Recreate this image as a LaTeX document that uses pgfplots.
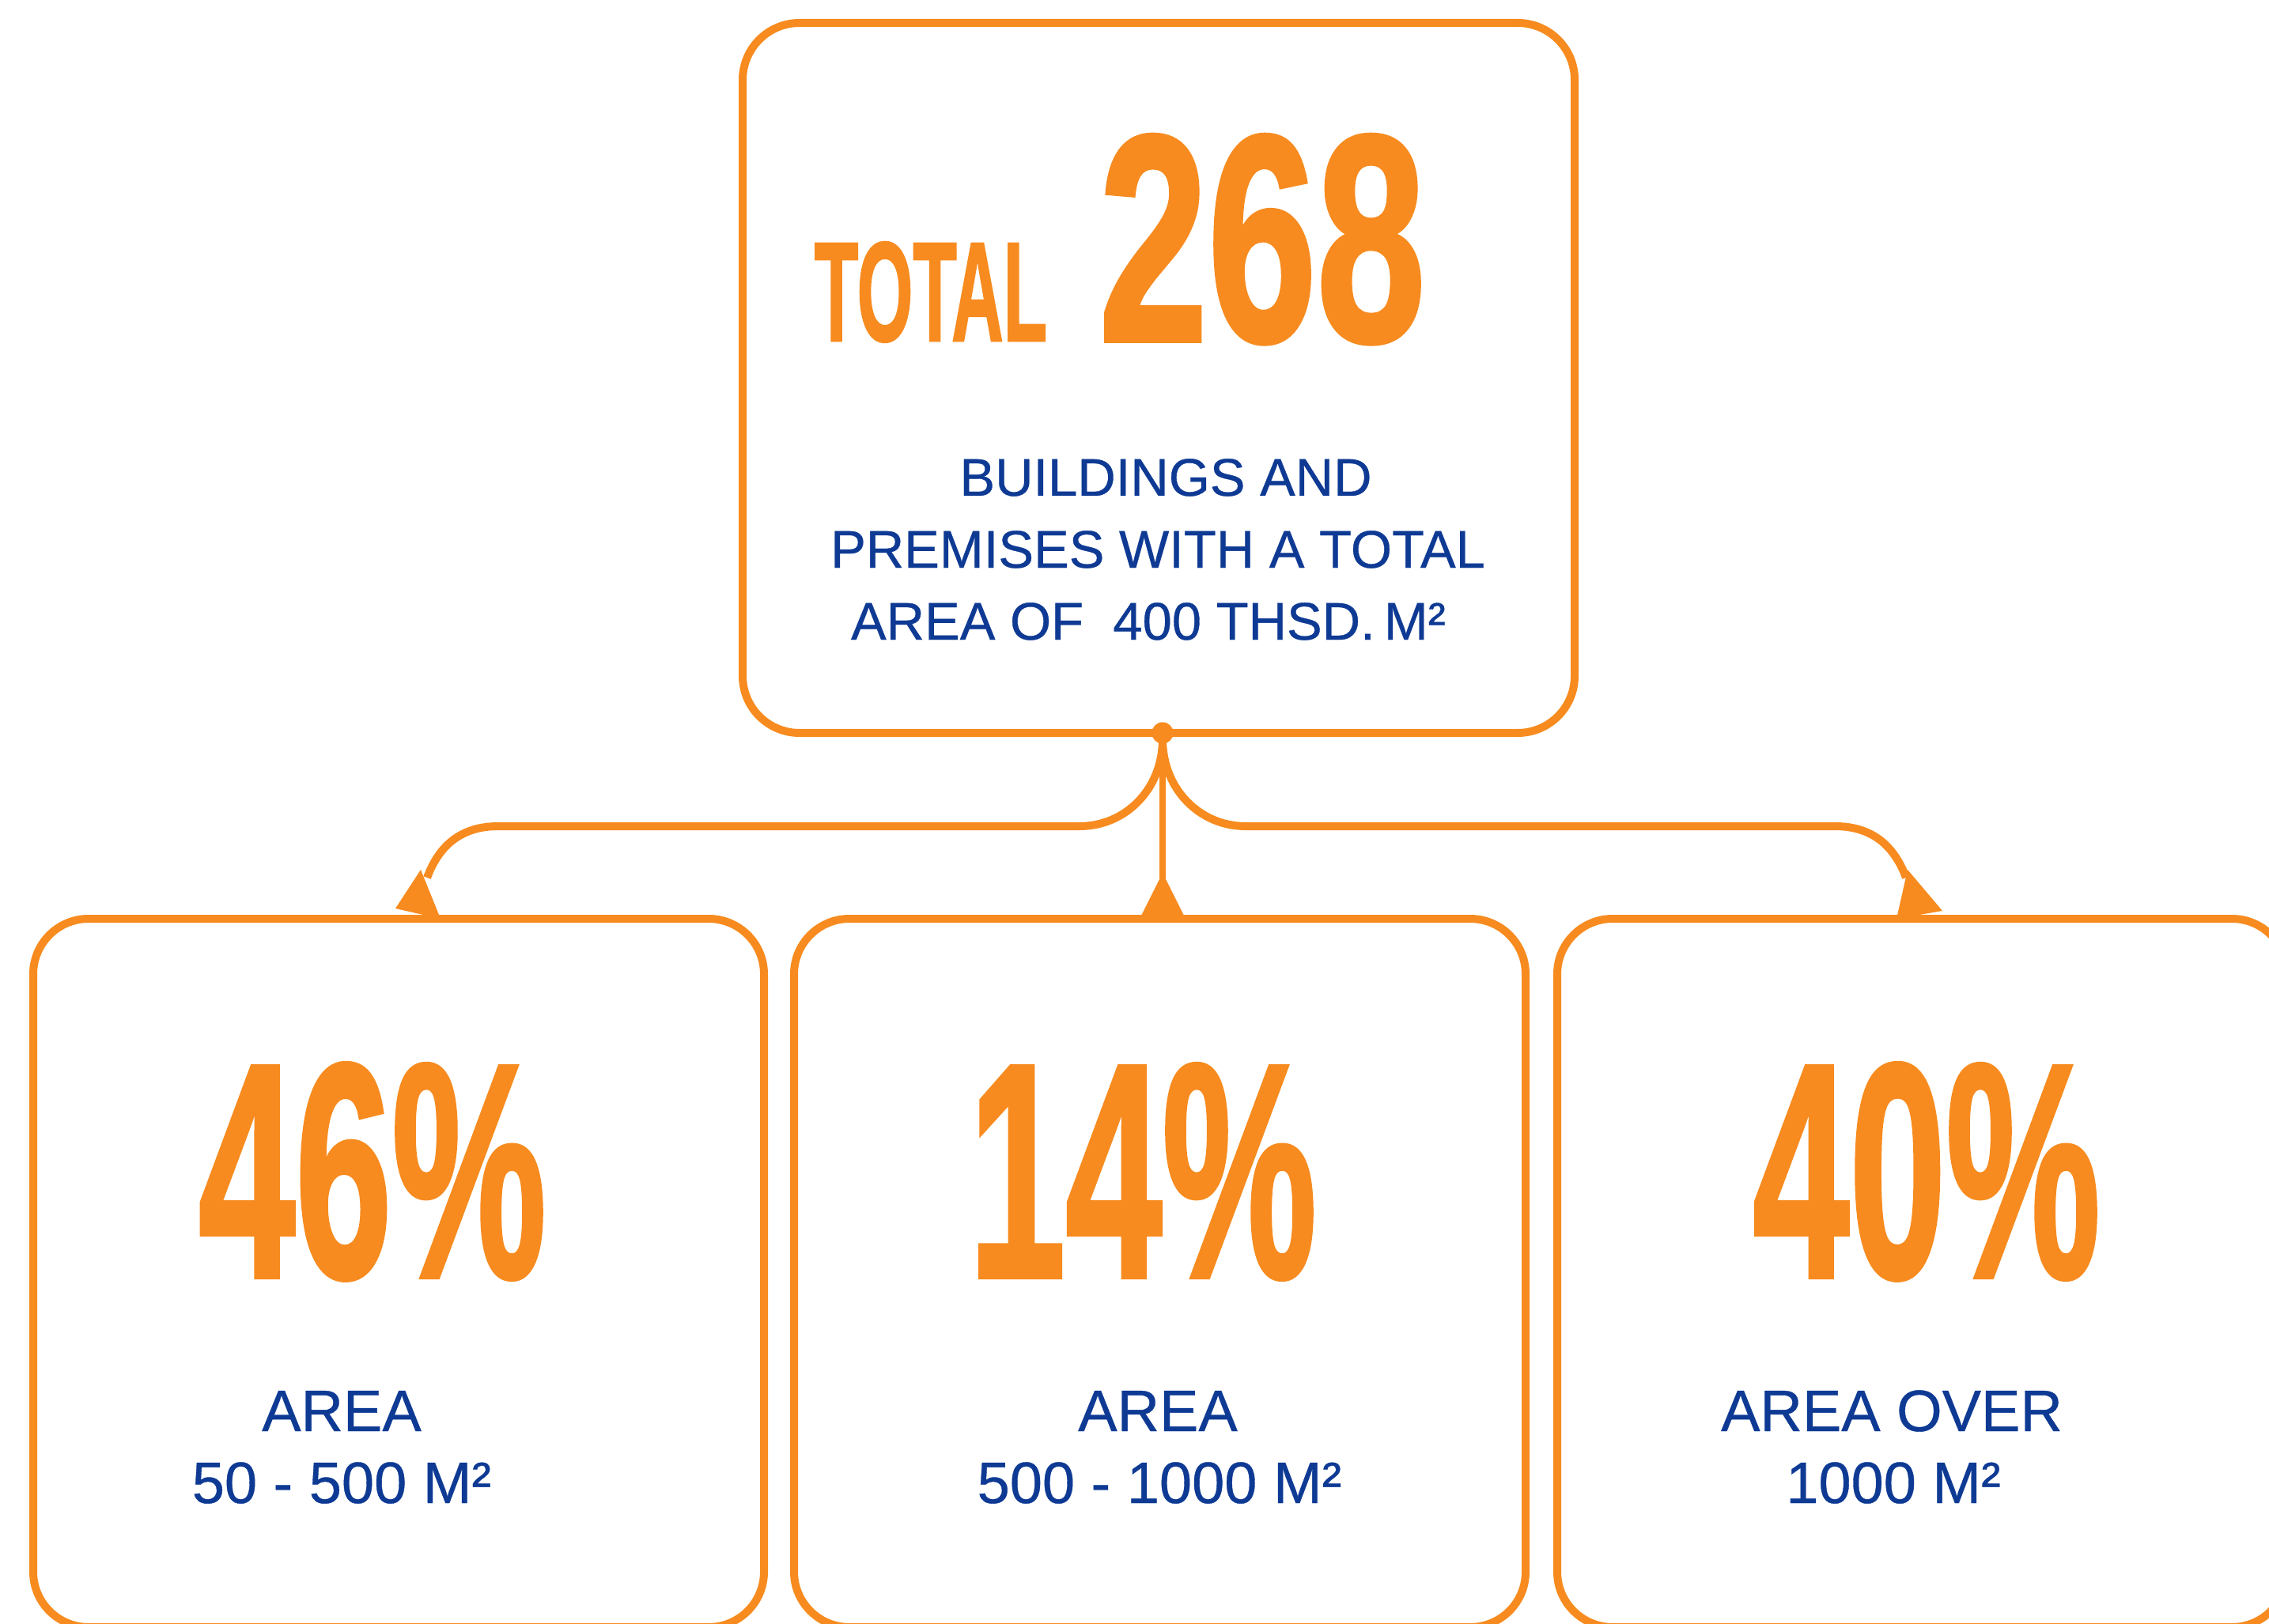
\documentclass[border=0pt]{standalone}
\usepackage{pgfplots}
\pgfplotsset{compat=1.18}
\usepackage{fontspec}
\setmainfont{Liberation Sans}
\newfontfamily\heavy{Liberation Sans Bold}[FakeBold=1.6]
\newfontfamily\medium{Liberation Sans}[FakeBold=0.5]
\definecolor{orng}{RGB}{247,139,31}
\definecolor{navy}{RGB}{14,58,148}

% sizes: 1 px of the reference = 0.25pt
\newcommand\pctfont{\fontsize{96.7}{100}\heavy\selectfont}
\newcommand\bluetop{\fontsize{16.75}{20}\medium\selectfont}
\newcommand\bluebot{\fontsize{18.5}{22}\medium\selectfont}

\begin{document}
\begin{tikzpicture}
\begin{axis}[
    width=717.25pt, height=513.5pt, scale only axis,
    xmin=0, xmax=2869, ymin=0, ymax=2054, y dir=reverse,
    hide axis,
]
% boxes
\draw[orng, line width=2.5pt, rounded corners=18pt]
    (axis cs:939,29) rectangle (axis cs:1991,927);
\draw[orng, line width=2.5pt, rounded corners=17.5pt]
    (axis cs:42,1162) rectangle (axis cs:966,2058);
\draw[orng, line width=2.5pt, rounded corners=17.5pt]
    (axis cs:1004,1162) rectangle (axis cs:1929,2058);
\draw[orng, line width=2.5pt, rounded corners=17.5pt]
    (axis cs:1969,1162) rectangle (axis cs:2892,2058);

% connectors
\fill[orng] (axis cs:1470,927) circle[radius=3.4pt];
\draw[orng, line width=2pt] (axis cs:1470,927) -- (axis cs:1470,1112);
\fill[orng] (axis cs:1470,1104) -- (axis cs:1441,1162) -- (axis cs:1499,1162) -- cycle;
\draw[orng, line width=2.5pt] (axis cs:1470,935)
    .. controls (axis cs:1470,998) and (axis cs:1423,1045) .. (axis cs:1365,1045)
    -- (axis cs:630,1045)
    .. controls (axis cs:578,1045) and (axis cs:553,1075) .. (axis cs:540,1110);
\fill[orng] (axis cs:500,1149) -- (axis cs:532,1100) -- (axis cs:557,1162) -- cycle;
\draw[orng, line width=2.5pt] (axis cs:1470,935)
    .. controls (axis cs:1470,998) and (axis cs:1517,1045) .. (axis cs:1575,1045)
    -- (axis cs:2320,1045)
    .. controls (axis cs:2372,1045) and (axis cs:2397,1075) .. (axis cs:2410,1110);
\fill[orng] (axis cs:2398,1162) -- (axis cs:2412,1100) -- (axis cs:2456,1152) -- cycle;

% headline
\node[anchor=base, text=orng, inner sep=0pt, font=\fontsize{44.7}{48}\heavy\selectfont]
    at (axis cs:1177,431) {\scalebox{0.508}[1]{TOTAL}};
\node[anchor=base, text=orng, inner sep=0pt, font=\fontsize{93.2}{96}\heavy\selectfont]
    at (axis cs:1596,431) {\scalebox{0.664}[1]{268}};
\node[anchor=base, text=navy, font=\bluetop] at (axis cs:1474,627) {BUILDINGS AND};
\node[anchor=base, text=navy, font=\bluetop] at (axis cs:1464,718) {PREMISES WITH A TOTAL};
\node[anchor=base, text=navy, font=\bluetop] at (axis cs:1452,809) {AREA OF\ \ 400 THSD.\,M²};

% shares
\addplot[draw=none, point meta=explicit symbolic,
    nodes near coords={\scalebox{0.568}[1]{\pgfplotspointmeta\%}},
    every node near coord/.append style={anchor=base, text=orng, font=\pctfont, inner sep=0pt}]
    table[meta=label] {
x    y    label
471  1615 46
1445 1615 14
2436 1615 40
};

\node[anchor=base, text=navy, font=\bluebot] at (axis cs:432,1810) {AREA};
\node[anchor=base, text=navy, font=\bluebot] at (axis cs:432,1901) {50 - 500 M²};
\node[anchor=base, text=navy, font=\bluebot] at (axis cs:1464,1810) {AREA};
\node[anchor=base, text=navy, font=\bluebot] at (axis cs:1466,1901) {500 - 1000 M²};
\node[anchor=base, text=navy, font=\bluebot] at (axis cs:2392,1810) {AREA OVER};
\node[anchor=base, text=navy, font=\bluebot] at (axis cs:2394,1901) {1000 M²};
\end{axis}
\pgfresetboundingbox
\path[use as bounding box] (current axis.south west) rectangle (current axis.north east);
\end{tikzpicture}
\end{document}
